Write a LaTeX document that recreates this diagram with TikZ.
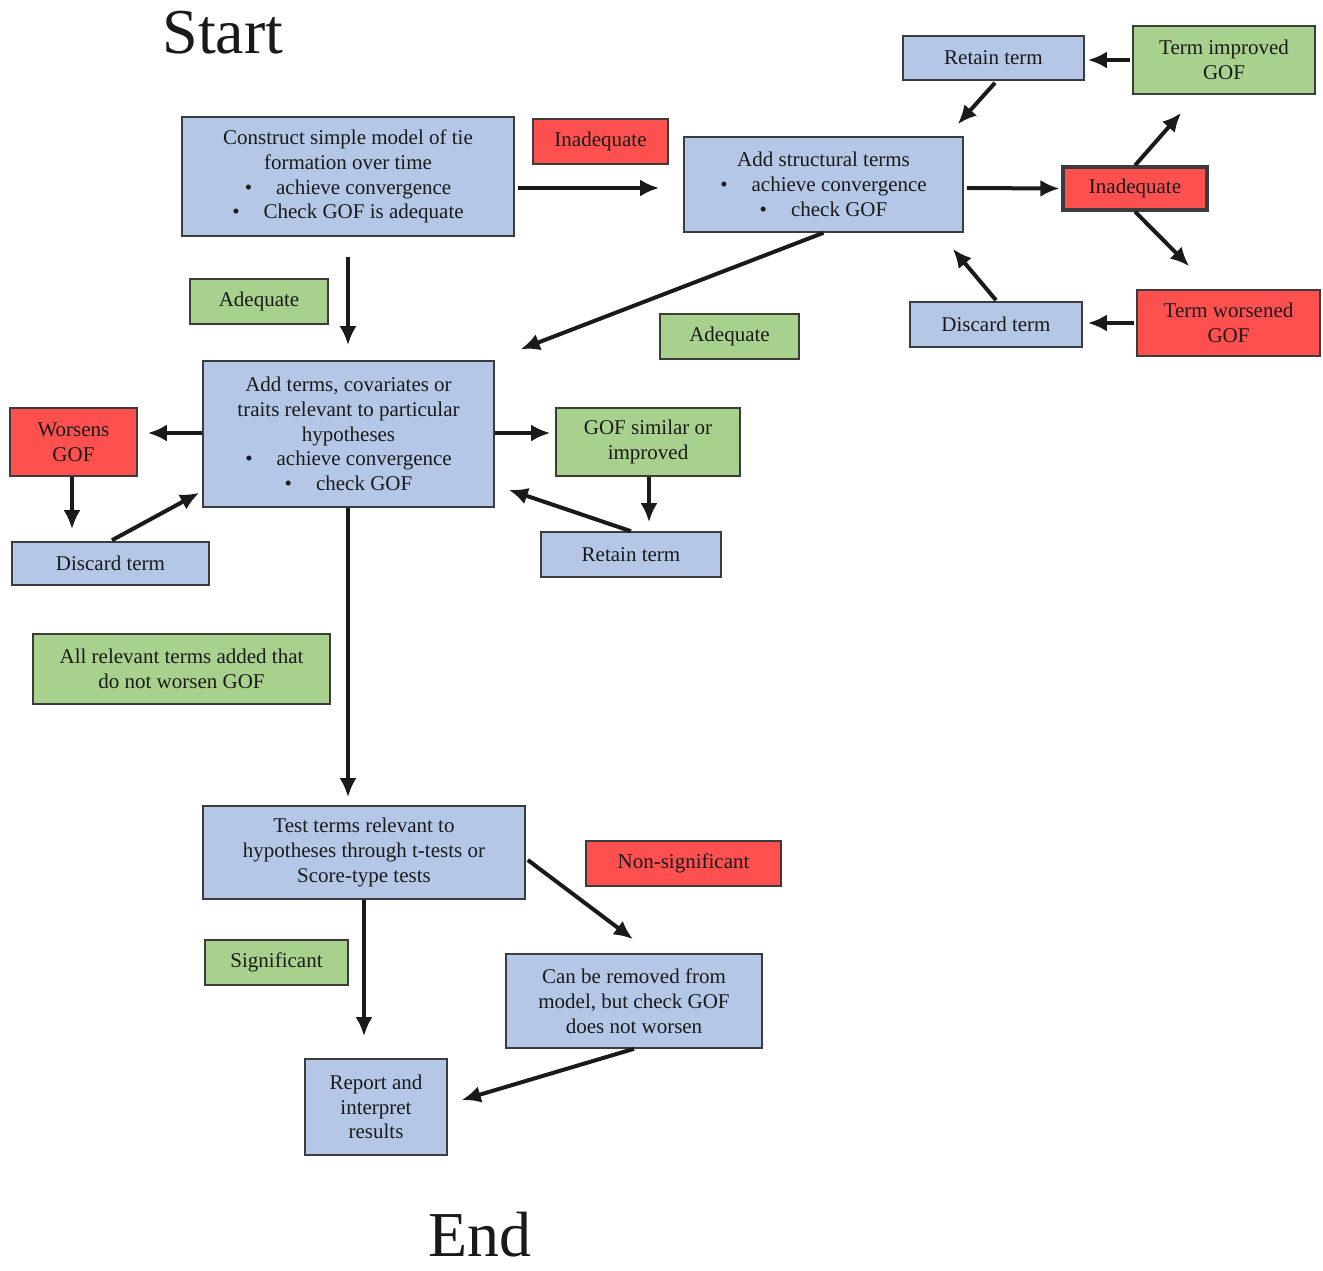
\documentclass[tikz,border=0pt]{standalone}
\usepackage{fontspec}
\setmainfont{Liberation Serif}
\usetikzlibrary{positioning,calc,arrows.meta}
\definecolor{ink}     {HTML}{1A1A1A}
\definecolor{taskfill}{HTML}{B4C7E7}
\definecolor{goodfill}{HTML}{A9D18E}
\definecolor{badfill} {HTML}{FF5050}
\tikzset{
  every node/.style={font=\fontsize{21}{24.7}\selectfont, text=ink},
  % --- nodes
  mod/.style  = {draw=ink!85, line width=1.6pt, align=center, inner sep=0pt},
  task/.style = {mod, fill=taskfill},
  good/.style = {mod, fill=goodfill},
  bad/.style  = {mod, fill=badfill},
  title/.style= {font=\fontsize{64}{64}\selectfont, anchor=base, inner sep=0pt},
  % --- edges
  flow/.style = {-{Latex[length=19pt,width=17pt]}, line width=4pt, draw=ink},
}
\newcommand{\bul}{\textbullet\hspace{24pt}}

\begin{document}
\begin{tikzpicture}[x=1pt,y=-1pt]
  \useasboundingbox (0,0) rectangle (1323,1270);

  \node[title] (start) at (223,53) {Start};
  \node[title] (end)   at (480,1256) {End};

  % first model
  \node[task, minimum width=332pt, minimum height=119pt] (construct) at (348,176.5)
    {Construct simple model of tie\\ formation over time\\ \bul achieve convergence\\ \bul Check GOF is adequate};
  \node[bad, minimum width=135pt, minimum height=45pt] (inad1) at (600.5,141.5) {Inadequate};
  \node[good, minimum width=138pt, minimum height=45pt] (adeq1) at (259,301.5) {Adequate};

  % structural loop
  \node[task, minimum width=279pt, minimum height=95pt] (structural) at (823.5,184.5)
    {Add structural terms\\ \bul achieve convergence\\ \bul check GOF};
  \node[bad, line width=3.2pt, minimum width=144pt, minimum height=43pt] (inad2) at (1135,188.5) {Inadequate};
  \node[good, minimum width=182pt, minimum height=68pt] (improved) at (1224,60) {Term improved\\ GOF};
  \node[task, minimum width=181pt, minimum height=44pt] (retain1) at (993.5,58) {Retain term};
  \node[bad, minimum width=183pt, minimum height=66pt] (worsened) at (1228.5,323) {Term worsened\\ GOF};
  \node[task, minimum width=172pt, minimum height=45pt] (discard1) at (996,324.5) {Discard term};
  \node[good, minimum width=139pt, minimum height=45pt] (adeq2) at (729.5,336.5) {Adequate};

  % hypotheses loop
  \node[task, minimum width=291pt, minimum height=146pt] (addterms) at (348.5,434)
    {Add terms, covariates or\\ traits relevant to particular\\ hypotheses\\ \bul achieve convergence\\ \bul check GOF};
  \node[bad, minimum width=127pt, minimum height=68pt] (worsens) at (73.5,442) {Worsens\\ GOF};
  \node[task, minimum width=197pt, minimum height=43pt] (discard2) at (110.5,563.5) {Discard term};
  \node[good, minimum width=184pt, minimum height=68pt] (gofsim) at (648,442) {GOF similar or\\ improved};
  \node[task, minimum width=180pt, minimum height=45pt] (retain2) at (631,554.5) {Retain term};
  \node[good, minimum width=297pt, minimum height=70pt] (allrel) at (181.5,669)
    {All relevant terms added that\\ do not worsen GOF};

  % testing
  \node[task, minimum width=322pt, minimum height=93pt] (test) at (364,852.5)
    {Test terms relevant to\\ hypotheses through t-tests or\\ Score-type tests};
  \node[bad, minimum width=195pt, minimum height=45pt] (nonsig) at (683.5,863.5) {Non-significant};
  \node[good, minimum width=143pt, minimum height=45pt] (signif) at (276.5,962.5) {Significant};
  \node[task, minimum width=256pt, minimum height=94pt] (canremove) at (634,1001)
    {Can be removed from\\ model, but check GOF\\ does not worsen};
  \node[task, minimum width=142pt, minimum height=96pt] (report) at (376,1107)
    {Report and\\ interpret\\ results};

  % connectors, top
  \draw[flow] ($(construct.east)+(3,11.5)$) -- ($(structural.west)+(-24,3.5)$);
  \draw[flow, shorten <=20pt, shorten >=15pt] (construct.south) -- (construct.south |- addterms.north);
  \draw[flow] (structural.south) -- ($(addterms.north east)+(26,-11)$);
  \draw[flow] ($(structural.east)+(3,3.5)$) -- ($(inad2.west)+(-2,0)$);
  \draw[flow] (inad2.north) -- ($(improved.south west)+(49,18)$);
  \draw[flow] (inad2.south) -- ($(worsened.north west)+(53,-23)$);
  \draw[flow] ($(improved.west)+(-2,0)$) -- ($(retain1.east)+(3,2)$);
  \draw[flow] ($(retain1.south)+(1.5,2)$) -- ($(structural.north east)+(-6,-12)$);
  \draw[flow] ($(worsened.west)+(-2,0)$) -- ($(discard1.east)+(5,-1.5)$);
  \draw[flow] ($(discard1.north)+(0,-1)$) -- ($(structural.south east)+(-11,16)$);

  % connectors, middle
  \draw[flow] ($(addterms.west)+(0,-1)$) -- ($(worsens.east |- addterms.west)+(10,-1)$);
  \draw[flow, shorten >=12pt] ($(worsens.south)+(-1.5,0)$) -- ($(worsens.south |- discard2.north)+(-1.5,0)$);
  \draw[flow] ($(discard2.north)+(1.5,-1)$) -- ($(addterms.south west)+(-3,-15)$);
  \draw[flow] ($(addterms.east)+(0,-1)$) -- ($(gofsim.west |- addterms.east)+(-5,-1)$);
  \draw[flow, shorten >=9pt] ($(gofsim.south)+(1,0)$) -- ($(gofsim.south |- retain2.north)+(1,0)$);
  \draw[flow] (retain2.north) -- ($(addterms.south east)+(14,-18)$);
  \draw[flow, shorten >=8pt] ($(addterms.south)+(-0.5,0)$) -- ($(addterms.south |- test.north)+(-0.5,0)$);

  % connectors, bottom
  \draw[flow] ($(test.east)+(2,7.5)$) -- ($(canremove.north)+(-1,-14)$);
  \draw[flow, shorten >=22pt] (test.south) -- (test.south |- report.north);
  \draw[flow] (canremove.south) -- ($(report.east)+(14,-7)$);
\end{tikzpicture}
\end{document}
